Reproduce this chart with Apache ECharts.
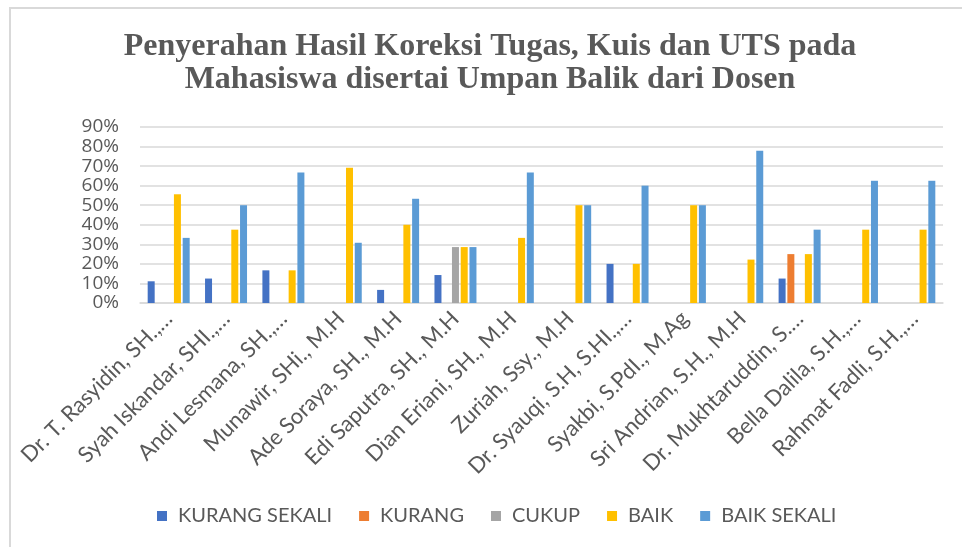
<!DOCTYPE html>
<html>
<head>
<meta charset="utf-8">
<script src="https://cdn.jsdelivr.net/npm/echarts@6/dist/echarts.min.js"></script>
<style>
html,body{margin:0;padding:0;background:#fff;}
#c{width:962px;height:547px;}
</style>
</head>
<body>
<div id="c"></div>
<script>
const titleLines = ['Penyerahan Hasil Koreksi Tugas, Kuis dan UTS pada', 'Mahasiswa disertai Umpan Balik dari Dosen'];
const categories = [
  'Dr. T. Rasyidin, SH.,…', 'Syah Iskandar, SHI.,…', 'Andi Lesmana, SH.,…', 'Munawir, SHi., M.H',
  'Ade Soraya, SH., M.H', 'Edi Saputra, SH., M.H', 'Dian Eriani, SH., M.H', 'Zuriah, Ssy., M.H',
  'Dr. Syauqi, S.H, S.HI.,…', 'Syakbi, S.PdI., M.Ag', 'Sri Andrian, S.H., M.H', 'Dr. Mukhtaruddin, S.…',
  'Bella Dalila, S.H.,…', 'Rahmat Fadli, S.H.,…'
];
const seriesNames = ['KURANG SEKALI', 'KURANG', 'CUKUP', 'BAIK', 'BAIK SEKALI'];
const kurangSekali = [11.1, 12.5, 16.7, 0, 6.7, 14.3, 0, 0, 20, 0, 0, 12.5, 0, 0];
const kurang       = [0, 0, 0, 0, 0, 0, 0, 0, 0, 0, 0, 25, 0, 0];
const cukup        = [0, 0, 0, 0, 0, 28.6, 0, 0, 0, 0, 0, 0, 0, 0];
const baik         = [55.6, 37.5, 16.7, 69.2, 40, 28.6, 33.3, 50, 20, 50, 22.2, 25, 37.5, 37.5];
const baikSekali   = [33.3, 50, 66.7, 30.8, 53.3, 28.6, 66.7, 50, 60, 50, 77.8, 37.5, 62.5, 62.5];
const colors = ['#4472C4', '#ED7D31', '#A5A5A5', '#FFC000', '#5B9BD5'];
const yTicks = {min: 0, max: 90, interval: 10};

const dataSets = [kurangSekali, kurang, cukup, baik, baikSekali];
const chart = echarts.init(document.getElementById('c'), null, {renderer: 'canvas'});
const labelFont = 'Lato, "Open Sans", sans-serif';
chart.setOption({
  animation: false,
  backgroundColor: '#fff',
  color: colors,
  graphic: [
    {type: 'rect', shape: {x: 10, y: 8, width: 1000, height: 600}, style: {fill: 'none', stroke: '#D9D9D9', lineWidth: 2}, silent: true},
    {type: 'text', x: 490, y: 30, style: {text: titleLines.join('\n'), textAlign: 'center', textVerticalAlign: 'top',
      font: 'bold 32px "Liberation Serif", "Times New Roman", serif', fill: '#595959', lineHeight: 33}}
  ],
  legend: {
    data: seriesNames,
    top: 501,
    left: 152,
    itemWidth: 10,
    itemHeight: 10,
    itemGap: 27,
    icon: 'rect',
    textStyle: {color: '#595959', fontSize: 20, fontFamily: labelFont, padding: [0, 0, 0, 6]}
  },
  grid: {left: 140, right: 19, top: 127, bottom: 244, containLabel: false},
  xAxis: {
    type: 'category',
    data: categories,
    axisLine: {lineStyle: {color: '#D9D9D9', width: 1.5}},
    axisTick: {show: false},
    axisLabel: {interval: 0, rotate: 45, color: '#595959', fontSize: 22, fontFamily: labelFont, margin: 12, hideOverlap: false}
  },
  yAxis: {
    type: 'value',
    min: yTicks.min, max: yTicks.max, interval: yTicks.interval,
    axisLine: {show: false},
    axisTick: {show: false},
    splitLine: {lineStyle: {color: '#D9D9D9', width: 1.5}},
    axisLabel: {formatter: '{value}%', margin: 21, color: '#595959', fontSize: 19,
      fontFamily: '"Open Sans", Lato, sans-serif',
      showMinLabel: true, showMaxLabel: true, hideOverlap: false}
  },
  series: seriesNames.map((n, i) => ({
    name: n, type: 'bar', data: dataSets[i], barWidth: 7, barGap: '25%',
    itemStyle: {color: colors[i]}
  }))
});
</script>
</body>
</html>
